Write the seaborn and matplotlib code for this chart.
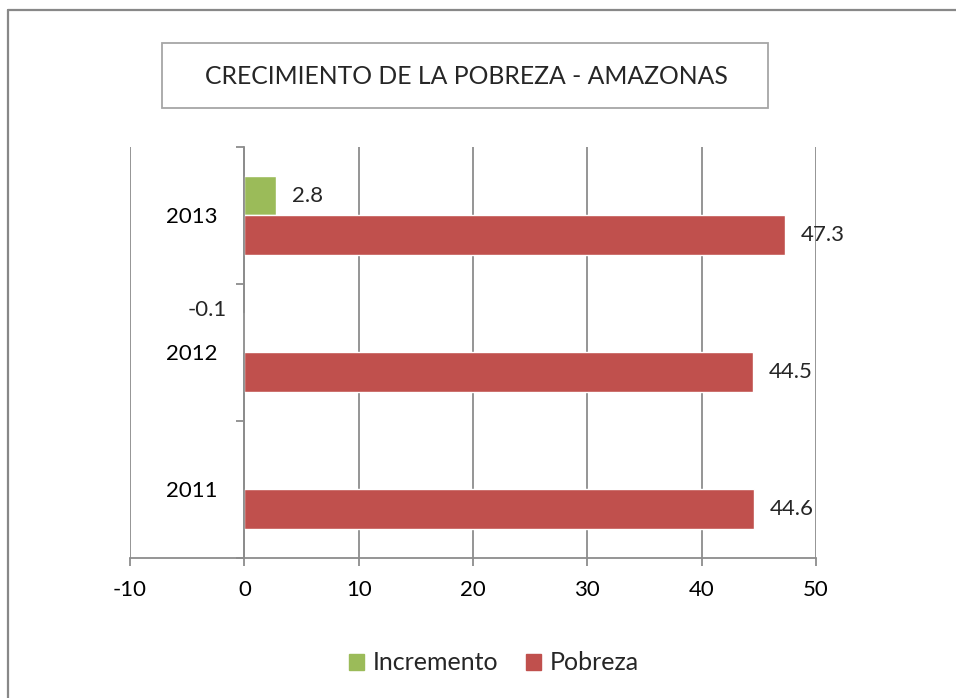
import numpy as np
import pandas as pd
import matplotlib
matplotlib.use("Agg")
import matplotlib.pyplot as plt
import seaborn as sns
from matplotlib.patches import Patch, Rectangle
from matplotlib.lines import Line2D

# ── Data ───────────────────────────────────────────
YEARS      = ["2013", "2012", "2011"]
INCREMENTO = [2.8, -0.1, np.nan]
POBREZA    = [47.3, 44.5, 44.6]
SERIES     = ["Incremento", "Pobreza"]
COLORS     = ["#9BBB59", "#C0504D"]
X_TICKS    = [-10, 0, 10, 20, 30, 40, 50]
TITLE      = "CRECIMIENTO DE LA POBREZA - AMAZONAS"

GRID = "#8C8C8C"

df = pd.DataFrame({
    "year":   YEARS * 2,
    "serie":  ["Incremento"] * 3 + ["Pobreza"] * 3,
    "valor":  INCREMENTO + POBREZA,
})

sns.set_style("white")
plt.rcParams["font.family"] = ["Lato", "DejaVu Sans"]

W, H = 956, 698
fig = plt.figure(figsize=(W / 100, H / 100), dpi=100)
fig.patch.set_facecolor("white")
ax = fig.add_axes([130 / W, 1 - 558 / H, (816 - 130) / W, (558 - 147) / H])

sns.barplot(data=df, y="year", x="valor", hue="serie",
            order=YEARS, hue_order=SERIES, palette=COLORS,
            orient="h", width=0.58, gap=0, errorbar=None,
            saturation=1, legend=False, ax=ax)

# ── Axes styling ───────────────────────────────────
ax.set_xlim(-10, 50)
ax.set_ylim(2.5, -0.5)
ax.set_xticks(X_TICKS)
ax.set_xticklabels([str(t) for t in X_TICKS])
ax.grid(axis="x", color=GRID, linewidth=1.3)
ax.grid(axis="y", visible=False)
ax.set_axisbelow(True)
ax.set_xlabel("")
ax.set_ylabel("")

for s in ["top", "right"]:
    ax.spines[s].set_visible(False)
ax.spines["left"].set_position(("data", 0))
ax.spines["left"].set_color(GRID)
ax.spines["left"].set_linewidth(1.3)
ax.spines["bottom"].set_color(GRID)
ax.spines["bottom"].set_linewidth(1.3)

ax.set_yticks([-0.5, 0.5, 1.5, 2.5])
ax.set_yticklabels([])
ax.set_yticks([0, 1, 2], minor=True)
ax.set_yticklabels(YEARS, minor=True)
ax.tick_params(axis="y", which="major", direction="out", length=6,
               width=1.3, color=GRID, left=True)
ax.tick_params(axis="y", which="minor", length=0, pad=19,
               labelsize=16, labelcolor="black")
ax.tick_params(axis="x", direction="out", length=6, width=1.3,
               color=GRID, bottom=True, pad=10, labelsize=16,
               labelcolor="black")

# ── Data labels ────────────────────────────────────
for bars in ax.containers:
    for bar in bars:
        w = bar.get_width()
        if np.isnan(w):
            continue
        yc = bar.get_y() + bar.get_height() / 2
        if w >= 0:
            ax.annotate(f"{w:.1f}", (w, yc), xytext=(11, 0),
                        textcoords="offset points", ha="left",
                        va="center", fontsize=16)
        else:
            ax.annotate(f"{w:.1f}", (w, yc), xytext=(-12, 16),
                        textcoords="offset points", ha="right",
                        va="center", fontsize=16)

# ── Title box ──────────────────────────────────────
fig.add_artist(Rectangle((162 / W, 1 - 108 / H), (768 - 162) / W,
                         (108 - 43) / H, transform=fig.transFigure,
                         facecolor="white", edgecolor="#A6A6A6",
                         linewidth=1.3))
fig.text(466 / W, 1 - 76 / H, TITLE, ha="center", va="center",
         fontsize=17.8)

# ── Legend ─────────────────────────────────────────
handles = [Patch(color=c, label=s) for s, c in zip(SERIES, COLORS)]
fig.legend(handles=handles, loc="center", ncol=2, frameon=False,
           bbox_to_anchor=(494 / W, 1 - 663 / H), fontsize=18,
           handlelength=0.6, handleheight=0.6, handletextpad=0.35,
           columnspacing=1.1)

# ── Outer frame (top and left only) ────────────────
fig.add_artist(Line2D([8 / W, 8 / W], [0, 1 - 10 / H],
                      transform=fig.transFigure, color="#888888",
                      linewidth=1.6))
fig.add_artist(Line2D([8 / W, 1], [1 - 10 / H, 1 - 10 / H],
                      transform=fig.transFigure, color="#888888",
                      linewidth=1.6))

fig.savefig("out.png", dpi=100, facecolor="white")
